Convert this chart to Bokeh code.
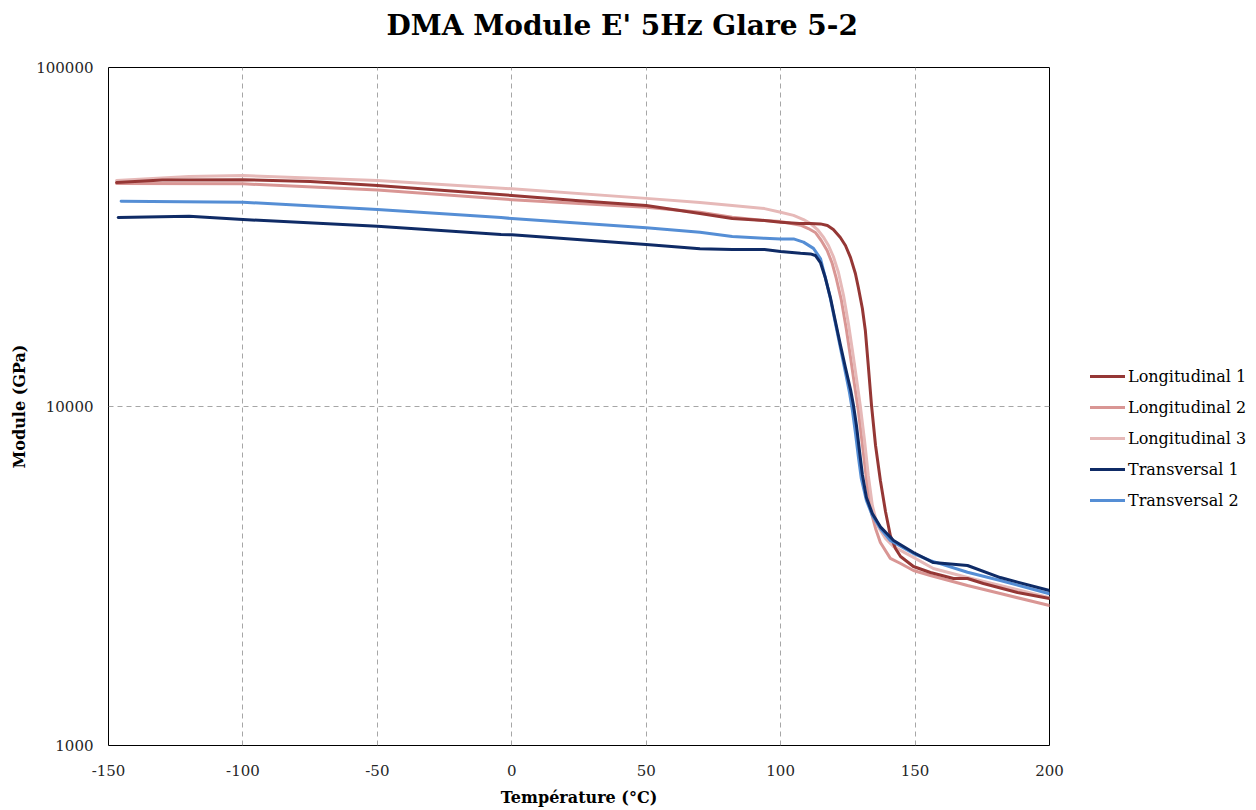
from bokeh.plotting import figure
from bokeh.models import Legend, LegendItem, FixedTicker, NumeralTickFormatter, Range1d, Title
from bokeh.embed import file_html
from bokeh.resources import INLINE

# ---- data ----
l1_t = [-147, -130, -100, -75, -50, -25, 0, 25, 50, 70, 82, 94, 100, 107, 111.1, 114.8, 117.4, 119.6, 122.2, 124.1, 126, 127.8, 128.9, 130.4, 131.5, 132.6, 133.8, 135.3, 137.1, 139, 140.8, 142.7, 144.6, 149.4, 155.7, 164.3, 169.5, 175.4, 188.1, 200]
l1_v = [45800, 46600, 46640, 46100, 44860, 43350, 41920, 40460, 39160, 37090, 35850, 35370, 34940, 34660, 34660, 34570, 34200, 33270, 31510, 29850, 27500, 24680, 22440, 19460, 16760, 13210, 10070, 7674, 6050, 4900, 4164, 3812, 3610, 3373, 3238, 3108, 3108, 3005, 2826, 2713]

l2_t = [-147, -100, -50, 0, 50, 70, 82, 94, 100, 107.4, 110.3, 112.9, 115.1, 117.3, 119.2, 120.7, 122.6, 124.4, 125.9, 127.4, 128.9, 130.4, 131.9, 133.4, 135.3, 137.1, 140.8, 144.6, 149.4, 155.7, 169.5, 181.7, 200]
l2_v = [45480, 45390, 43550, 40750, 38680, 37410, 36150, 35370, 35120, 34270, 33500, 32610, 30880, 28850, 26400, 23860, 20550, 16990, 14140, 11690, 9730, 7727, 6133, 4970, 4367, 3971, 3565, 3443, 3282, 3173, 2964, 2807, 2588]

l3_t = [-147, -120, -100, -50, 0, 50, 70, 82, 94, 100, 104.8, 108.5, 111.1, 113.7, 116, 117.8, 119.6, 121.5, 123.4, 125.2, 126.7, 128.2, 129.7, 131.2, 132.6, 134.1, 136, 139, 142, 149.4, 156.8, 169.5, 181.7, 200]
l3_v = [46420, 47680, 48020, 46420, 43860, 41110, 39960, 39160, 38350, 37410, 36630, 35610, 34660, 33270, 31510, 29850, 27700, 24850, 21250, 17570, 14630, 12090, 9930, 7938, 6260, 5105, 4457, 4080, 3860, 3590, 3328, 3129, 2964, 2730]

t1_t = [-146.4, -120, -100, -50, -4, 0, 50, 70, 82, 94, 100, 107.4, 111.1, 112.9, 114.8, 116.6, 118.5, 120.3, 122.2, 124.1, 126, 127.1, 128.2, 129.3, 130.4, 131.9, 134.1, 137.1, 142, 149.4, 156.8, 169.5, 181.7, 200]
t1_v = [36080, 36400, 35600, 34040, 32170, 32110, 30050, 29190, 29040, 29040, 28650, 28310, 28190, 27890, 26590, 24010, 20960, 17940, 15230, 13030, 11220, 10070, 8790, 7417, 6302, 5389, 4836, 4416, 4024, 3709, 3465, 3396, 3129, 2865]

t2_t = [-145.3, -100, -50, -4, 0, 50, 70, 82, 94, 100, 104.8, 108.5, 112.2, 114.8, 117.2, 118.5, 120.3, 122.2, 124.1, 125.6, 126.7, 127.8, 128.9, 130, 131.9, 134.1, 137.1, 140.8, 149.4, 155.7, 169.5, 181.7, 200]
t2_v = [40330, 40060, 38110, 36080, 35850, 33700, 32670, 31730, 31350, 31210, 31210, 30540, 29270, 27330, 23000, 20830, 17690, 14930, 12600, 11000, 9730, 8382, 7122, 6133, 5282, 4771, 4367, 4024, 3684, 3512, 3245, 3066, 2802]

series_names = ["Longitudinal 1", "Longitudinal 2", "Longitudinal 3", "Transversal 1", "Transversal 2"]
x_ticks = [-150, -100, -50, 0, 50, 100, 150, 200]
x_tick_labels = ["-150", "-100", "-50", "0", "50", "100", "150", "200"]
y_ticks = [1000, 10000, 100000]
title_text = "DMA Module E' 5Hz Glare 5-2"

SERIF = "DejaVu Serif"

p = figure(width=1256, height=810, y_axis_type="log",
           x_range=Range1d(-150, 200), y_range=Range1d(1000, 100000),
           output_backend="svg", toolbar_location=None, title_location=None,
           frame_width=941, frame_height=678,
           min_border_left=108, min_border_right=207, min_border_top=67, min_border_bottom=65)

spacer = Title(text=" ", text_font_size="1px", standoff=23)
p.add_layout(spacer, "above")
main_title = Title(text=title_text, text_font=SERIF, text_font_size="28px", text_font_style="bold",
                   align="left", offset=278, standoff=0, text_color="#000000")
p.add_layout(main_title, "above")

p.outline_line_color = "#000000"
p.outline_line_width = 1
p.background_fill_color = "white"
p.border_fill_color = "white"

for ax in (p.xaxis[0], p.yaxis[0]):
    ax.axis_line_color = None
    ax.major_tick_line_color = None
    ax.minor_tick_line_color = None
    ax.major_label_text_font = SERIF
    ax.major_label_text_font_size = "15px"
    ax.major_label_text_color = "#262626"
    ax.axis_label_text_font = SERIF
    ax.axis_label_text_font_size = "16px"
    ax.axis_label_text_font_style = "bold"
    ax.axis_label_text_color = "#000000"

p.xaxis.ticker = FixedTicker(ticks=x_ticks)
p.xaxis.major_label_overrides = {t: s for t, s in zip(x_ticks, x_tick_labels)}
p.yaxis.ticker = FixedTicker(ticks=y_ticks)
p.yaxis.formatter = NumeralTickFormatter(format="0")
p.xaxis.major_label_standoff = 13
p.yaxis.major_label_standoff = 9
p.xaxis.axis_label = "Température (°C)"
p.yaxis.axis_label = "Module (GPa)"
p.xaxis.axis_label_standoff = 9
p.yaxis.axis_label_standoff = 4

p.xgrid.grid_line_color = "#A6A6A6"
p.xgrid.grid_line_dash = "5 4"
p.ygrid.grid_line_color = "#A6A6A6"
p.ygrid.grid_line_dash = "5 4"
p.xgrid.ticker = FixedTicker(ticks=[-100, -50, 0, 50, 100, 150])
p.ygrid.ticker = FixedTicker(ticks=[10000])

colors = {"Longitudinal 1": "#953735", "Longitudinal 2": "#D99694", "Longitudinal 3": "#E6B9B8",
          "Transversal 1": "#0F2B66", "Transversal 2": "#558ED5"}
data = {"Longitudinal 1": (l1_t, l1_v), "Longitudinal 2": (l2_t, l2_v), "Longitudinal 3": (l3_t, l3_v),
        "Transversal 1": (t1_t, t1_v), "Transversal 2": (t2_t, t2_v)}

renderers = {}
for name in ["Longitudinal 2", "Longitudinal 3", "Longitudinal 1", "Transversal 2", "Transversal 1"]:
    t, v = data[name]
    renderers[name] = p.line(t, v, line_color=colors[name], line_width=3, line_join="round", line_cap="round")

legend = Legend(items=[LegendItem(label=n, renderers=[renderers[n]]) for n in series_names],
                location=(41, 235), orientation="vertical",
                label_text_font=SERIF, label_text_font_size="16px", label_text_color="#000000",
                glyph_width=35, glyph_height=20, label_height=20, spacing=11,
                padding=0, margin=0, label_standoff=3,
                border_line_color=None, background_fill_alpha=0)
p.add_layout(legend, "right")

open("out.html", "w").write(file_html(p, INLINE))
